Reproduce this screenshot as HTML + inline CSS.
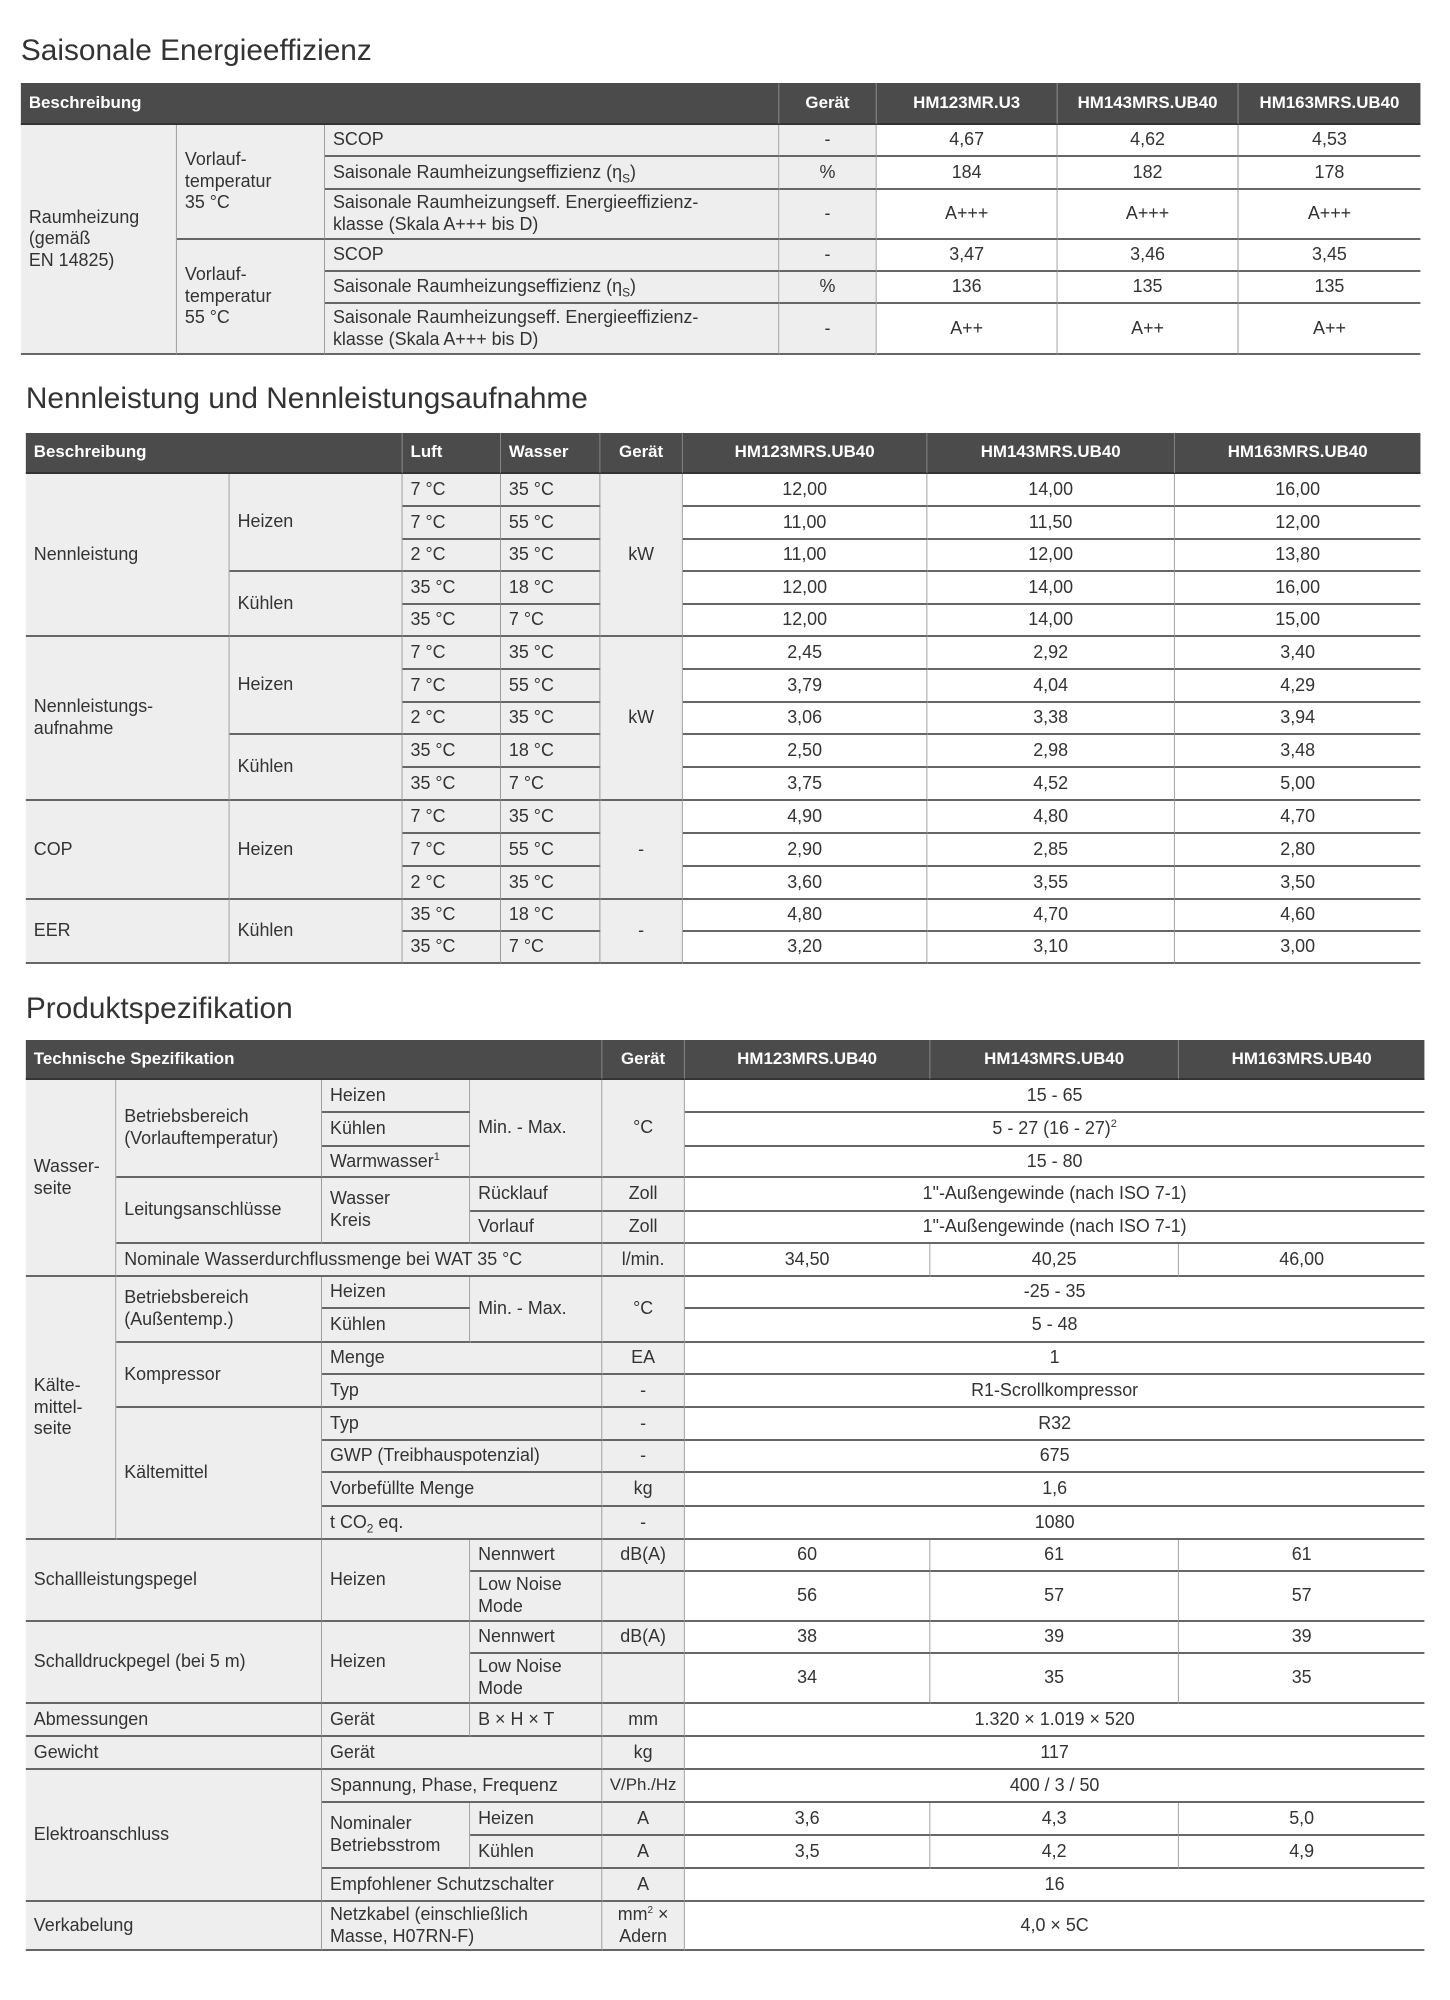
<!DOCTYPE html>
<html><head><meta charset="utf-8"><style>
body{margin:0;width:1450px;height:2000px;background:#fff;position:relative;font-family:"Liberation Sans",sans-serif;color:#333;overflow:hidden}
#w{position:absolute;left:0;top:0;width:1450px;height:2000px;transform:scaleX(0.994);transform-origin:0 0}
.t{position:absolute;font-size:30px;color:#333;white-space:nowrap}
.c{position:absolute;box-sizing:border-box;border-right:1px solid #999;border-bottom:2px solid #666;padding:0 8px;display:flex;align-items:center;font-size:18px;line-height:1.2;background:#fff;white-space:nowrap}
.g{background:#eee}
.m{justify-content:center;text-align:center}
.h{background:#4b4b4b;color:#fff;font-weight:bold;font-size:17px;border-bottom:2px solid #333;border-right:1px solid #888}
.n{border-right:none}
sub,sup{line-height:0}
</style></head><body><div id="w">

<div class="t" style="left:21px;top:34px">Saisonale Energieeffizienz</div>
<div class="c h" style="left:21px;top:83px;width:763px;height:42px">Beschreibung</div>
<div class="c h m" style="left:784px;top:83px;width:98px;height:42px">Gerät</div>
<div class="c h m" style="left:882px;top:83px;width:182px;height:42px">HM123MR.U3</div>
<div class="c h m" style="left:1064px;top:83px;width:182px;height:42px">HM143MRS.UB40</div>
<div class="c h m n" style="left:1246px;top:83px;width:183px;height:42px">HM163MRS.UB40</div>
<div class="c g" style="left:21px;top:125px;width:157px;height:230px">Raumheizung<br>(gemäß<br>EN 14825)</div>
<div class="c g" style="left:178px;top:125px;width:149px;height:115px;align-items:flex-start;padding-top:24px">Vorlauf-<br>temperatur<br>35 °C</div>
<div class="c g" style="left:178px;top:240px;width:149px;height:115px">Vorlauf-<br>temperatur<br>55 °C</div>
<div class="c g" style="left:327px;top:125px;width:457px;height:32px">SCOP</div>
<div class="c g" style="left:327px;top:157px;width:457px;height:33px"><span>Saisonale Raumheizungseffizienz (η<sub style="font-size:12px">S</sub>)</span></div>
<div class="c g" style="left:327px;top:190px;width:457px;height:50px"><span>Saisonale Raumheizungseff. Energieeffizienz-<br>klasse (Skala A+++ bis D)</span></div>
<div class="c g" style="left:327px;top:240px;width:457px;height:32px">SCOP</div>
<div class="c g" style="left:327px;top:272px;width:457px;height:32px"><span>Saisonale Raumheizungseffizienz (η<sub style="font-size:12px">S</sub>)</span></div>
<div class="c g" style="left:327px;top:304px;width:457px;height:51px"><span>Saisonale Raumheizungseff. Energieeffizienz-<br>klasse (Skala A+++ bis D)</span></div>
<div class="c g m" style="left:784px;top:125px;width:98px;height:32px">-</div>
<div class="c g m" style="left:784px;top:157px;width:98px;height:33px">%</div>
<div class="c g m" style="left:784px;top:190px;width:98px;height:50px">-</div>
<div class="c g m" style="left:784px;top:240px;width:98px;height:32px">-</div>
<div class="c g m" style="left:784px;top:272px;width:98px;height:32px">%</div>
<div class="c g m" style="left:784px;top:304px;width:98px;height:51px">-</div>
<div class="c m" style="left:882px;top:125px;width:182px;height:32px">4,67</div>
<div class="c m" style="left:1064px;top:125px;width:182px;height:32px">4,62</div>
<div class="c m n" style="left:1246px;top:125px;width:183px;height:32px">4,53</div>
<div class="c m" style="left:882px;top:157px;width:182px;height:33px">184</div>
<div class="c m" style="left:1064px;top:157px;width:182px;height:33px">182</div>
<div class="c m n" style="left:1246px;top:157px;width:183px;height:33px">178</div>
<div class="c m" style="left:882px;top:190px;width:182px;height:50px">A+++</div>
<div class="c m" style="left:1064px;top:190px;width:182px;height:50px">A+++</div>
<div class="c m n" style="left:1246px;top:190px;width:183px;height:50px">A+++</div>
<div class="c m" style="left:882px;top:240px;width:182px;height:32px">3,47</div>
<div class="c m" style="left:1064px;top:240px;width:182px;height:32px">3,46</div>
<div class="c m n" style="left:1246px;top:240px;width:183px;height:32px">3,45</div>
<div class="c m" style="left:882px;top:272px;width:182px;height:32px">136</div>
<div class="c m" style="left:1064px;top:272px;width:182px;height:32px">135</div>
<div class="c m n" style="left:1246px;top:272px;width:183px;height:32px">135</div>
<div class="c m" style="left:882px;top:304px;width:182px;height:51px">A++</div>
<div class="c m" style="left:1064px;top:304px;width:182px;height:51px">A++</div>
<div class="c m n" style="left:1246px;top:304px;width:183px;height:51px">A++</div>

<div class="t" style="left:26px;top:382px">Nennleistung und Nennleistungsaufnahme</div>
<div class="c h" style="left:26px;top:433px;width:379px;height:41px">Beschreibung</div>
<div class="c h" style="left:405px;top:433px;width:99px;height:41px">Luft</div>
<div class="c h" style="left:504px;top:433px;width:100px;height:41px">Wasser</div>
<div class="c h m" style="left:604px;top:433px;width:83px;height:41px">Gerät</div>
<div class="c h m" style="left:687px;top:433px;width:246px;height:41px">HM123MRS.UB40</div>
<div class="c h m" style="left:933px;top:433px;width:249px;height:41px">HM143MRS.UB40</div>
<div class="c h m n" style="left:1182px;top:433px;width:247px;height:41px">HM163MRS.UB40</div>
<div class="c g" style="left:26px;top:474px;width:205px;height:163px">Nennleistung</div>
<div class="c g" style="left:26px;top:637px;width:205px;height:164px">Nennleistungs-<br>aufnahme</div>
<div class="c g" style="left:26px;top:801px;width:205px;height:99px">COP</div>
<div class="c g" style="left:26px;top:900px;width:205px;height:64px">EER</div>
<div class="c g" style="left:231px;top:474px;width:174px;height:98px">Heizen</div>
<div class="c g" style="left:231px;top:572px;width:174px;height:65px">Kühlen</div>
<div class="c g" style="left:231px;top:637px;width:174px;height:98px">Heizen</div>
<div class="c g" style="left:231px;top:735px;width:174px;height:66px">Kühlen</div>
<div class="c g" style="left:231px;top:801px;width:174px;height:99px">Heizen</div>
<div class="c g" style="left:231px;top:900px;width:174px;height:64px">Kühlen</div>
<div class="c g m" style="left:604px;top:474px;width:83px;height:163px">kW</div>
<div class="c g m" style="left:604px;top:637px;width:83px;height:164px">kW</div>
<div class="c g m" style="left:604px;top:801px;width:83px;height:99px">-</div>
<div class="c g m" style="left:604px;top:900px;width:83px;height:64px">-</div>

<div class="c g" style="left:405px;top:474px;width:99px;height:33px">7 °C</div><div class="c g" style="left:504px;top:474px;width:100px;height:33px">35 °C</div>
<div class="c g" style="left:405px;top:507px;width:99px;height:33px">7 °C</div><div class="c g" style="left:504px;top:507px;width:100px;height:33px">55 °C</div>
<div class="c g" style="left:405px;top:540px;width:99px;height:32px">2 °C</div><div class="c g" style="left:504px;top:540px;width:100px;height:32px">35 °C</div>
<div class="c g" style="left:405px;top:572px;width:99px;height:33px">35 °C</div><div class="c g" style="left:504px;top:572px;width:100px;height:33px">18 °C</div>
<div class="c g" style="left:405px;top:605px;width:99px;height:32px">35 °C</div><div class="c g" style="left:504px;top:605px;width:100px;height:32px">7 °C</div>
<div class="c g" style="left:405px;top:637px;width:99px;height:33px">7 °C</div><div class="c g" style="left:504px;top:637px;width:100px;height:33px">35 °C</div>
<div class="c g" style="left:405px;top:670px;width:99px;height:33px">7 °C</div><div class="c g" style="left:504px;top:670px;width:100px;height:33px">55 °C</div>
<div class="c g" style="left:405px;top:703px;width:99px;height:32px">2 °C</div><div class="c g" style="left:504px;top:703px;width:100px;height:32px">35 °C</div>
<div class="c g" style="left:405px;top:735px;width:99px;height:33px">35 °C</div><div class="c g" style="left:504px;top:735px;width:100px;height:33px">18 °C</div>
<div class="c g" style="left:405px;top:768px;width:99px;height:33px">35 °C</div><div class="c g" style="left:504px;top:768px;width:100px;height:33px">7 °C</div>
<div class="c g" style="left:405px;top:801px;width:99px;height:33px">7 °C</div><div class="c g" style="left:504px;top:801px;width:100px;height:33px">35 °C</div>
<div class="c g" style="left:405px;top:834px;width:99px;height:33px">7 °C</div><div class="c g" style="left:504px;top:834px;width:100px;height:33px">55 °C</div>
<div class="c g" style="left:405px;top:867px;width:99px;height:33px">2 °C</div><div class="c g" style="left:504px;top:867px;width:100px;height:33px">35 °C</div>
<div class="c g" style="left:405px;top:900px;width:99px;height:32px">35 °C</div><div class="c g" style="left:504px;top:900px;width:100px;height:32px">18 °C</div>
<div class="c g" style="left:405px;top:932px;width:99px;height:32px">35 °C</div><div class="c g" style="left:504px;top:932px;width:100px;height:32px">7 °C</div>

<div class="c m" style="left:687px;top:474px;width:246px;height:33px">12,00</div><div class="c m" style="left:933px;top:474px;width:249px;height:33px">14,00</div><div class="c m n" style="left:1182px;top:474px;width:247px;height:33px">16,00</div>
<div class="c m" style="left:687px;top:507px;width:246px;height:33px">11,00</div><div class="c m" style="left:933px;top:507px;width:249px;height:33px">11,50</div><div class="c m n" style="left:1182px;top:507px;width:247px;height:33px">12,00</div>
<div class="c m" style="left:687px;top:540px;width:246px;height:32px">11,00</div><div class="c m" style="left:933px;top:540px;width:249px;height:32px">12,00</div><div class="c m n" style="left:1182px;top:540px;width:247px;height:32px">13,80</div>
<div class="c m" style="left:687px;top:572px;width:246px;height:33px">12,00</div><div class="c m" style="left:933px;top:572px;width:249px;height:33px">14,00</div><div class="c m n" style="left:1182px;top:572px;width:247px;height:33px">16,00</div>
<div class="c m" style="left:687px;top:605px;width:246px;height:32px">12,00</div><div class="c m" style="left:933px;top:605px;width:249px;height:32px">14,00</div><div class="c m n" style="left:1182px;top:605px;width:247px;height:32px">15,00</div>
<div class="c m" style="left:687px;top:637px;width:246px;height:33px">2,45</div><div class="c m" style="left:933px;top:637px;width:249px;height:33px">2,92</div><div class="c m n" style="left:1182px;top:637px;width:247px;height:33px">3,40</div>
<div class="c m" style="left:687px;top:670px;width:246px;height:33px">3,79</div><div class="c m" style="left:933px;top:670px;width:249px;height:33px">4,04</div><div class="c m n" style="left:1182px;top:670px;width:247px;height:33px">4,29</div>
<div class="c m" style="left:687px;top:703px;width:246px;height:32px">3,06</div><div class="c m" style="left:933px;top:703px;width:249px;height:32px">3,38</div><div class="c m n" style="left:1182px;top:703px;width:247px;height:32px">3,94</div>
<div class="c m" style="left:687px;top:735px;width:246px;height:33px">2,50</div><div class="c m" style="left:933px;top:735px;width:249px;height:33px">2,98</div><div class="c m n" style="left:1182px;top:735px;width:247px;height:33px">3,48</div>
<div class="c m" style="left:687px;top:768px;width:246px;height:33px">3,75</div><div class="c m" style="left:933px;top:768px;width:249px;height:33px">4,52</div><div class="c m n" style="left:1182px;top:768px;width:247px;height:33px">5,00</div>
<div class="c m" style="left:687px;top:801px;width:246px;height:33px">4,90</div><div class="c m" style="left:933px;top:801px;width:249px;height:33px">4,80</div><div class="c m n" style="left:1182px;top:801px;width:247px;height:33px">4,70</div>
<div class="c m" style="left:687px;top:834px;width:246px;height:33px">2,90</div><div class="c m" style="left:933px;top:834px;width:249px;height:33px">2,85</div><div class="c m n" style="left:1182px;top:834px;width:247px;height:33px">2,80</div>
<div class="c m" style="left:687px;top:867px;width:246px;height:33px">3,60</div><div class="c m" style="left:933px;top:867px;width:249px;height:33px">3,55</div><div class="c m n" style="left:1182px;top:867px;width:247px;height:33px">3,50</div>
<div class="c m" style="left:687px;top:900px;width:246px;height:32px">4,80</div><div class="c m" style="left:933px;top:900px;width:249px;height:32px">4,70</div><div class="c m n" style="left:1182px;top:900px;width:247px;height:32px">4,60</div>
<div class="c m" style="left:687px;top:932px;width:246px;height:32px">3,20</div><div class="c m" style="left:933px;top:932px;width:249px;height:32px">3,10</div><div class="c m n" style="left:1182px;top:932px;width:247px;height:32px">3,00</div>

<div class="t" style="left:26px;top:992px">Produktspezifikation</div>
<div class="c h" style="left:26px;top:1040px;width:580px;height:40px">Technische Spezifikation</div>
<div class="c h m" style="left:606px;top:1040px;width:83px;height:40px">Gerät</div>
<div class="c h m" style="left:689px;top:1040px;width:247px;height:40px">HM123MRS.UB40</div>
<div class="c h m" style="left:936px;top:1040px;width:250px;height:40px">HM143MRS.UB40</div>
<div class="c h m n" style="left:1186px;top:1040px;width:247px;height:40px">HM163MRS.UB40</div>

<div class="c g" style="left:26px;top:1080px;width:91px;height:197px">Wasser-<br>seite</div>
<div class="c g" style="left:26px;top:1277px;width:91px;height:263px">Kälte-<br>mittel-<br>seite</div>
<div class="c g" style="left:117px;top:1080px;width:207px;height:98px;white-space:normal">Betriebsbereich (Vorlauftemperatur)</div>
<div class="c g" style="left:117px;top:1178px;width:207px;height:66px">Leitungsanschlüsse</div>
<div class="c g" style="left:117px;top:1244px;width:489px;height:33px">Nominale Wasserdurchflussmenge bei WAT 35 °C</div>
<div class="c g" style="left:117px;top:1277px;width:207px;height:66px">Betriebsbereich<br>(Außentemp.)</div>
<div class="c g" style="left:117px;top:1343px;width:207px;height:65px">Kompressor</div>
<div class="c g" style="left:117px;top:1408px;width:207px;height:132px">Kältemittel</div>
<div class="c g" style="left:324px;top:1080px;width:149px;height:33px">Heizen</div>
<div class="c g" style="left:324px;top:1113px;width:149px;height:34px">Kühlen</div>
<div class="c g" style="left:324px;top:1147px;width:149px;height:31px"><span>Warmwasser<sup style="font-size:11px">1</sup></span></div>
<div class="c g" style="left:324px;top:1178px;width:149px;height:66px">Wasser<br>Kreis</div>
<div class="c g" style="left:324px;top:1277px;width:149px;height:32px">Heizen</div>
<div class="c g" style="left:324px;top:1309px;width:149px;height:34px">Kühlen</div>
<div class="c g" style="left:324px;top:1343px;width:282px;height:32px">Menge</div>
<div class="c g" style="left:324px;top:1375px;width:282px;height:33px">Typ</div>
<div class="c g" style="left:324px;top:1408px;width:282px;height:33px">Typ</div>
<div class="c g" style="left:324px;top:1441px;width:282px;height:32px">GWP (Treibhauspotenzial)</div>
<div class="c g" style="left:324px;top:1473px;width:282px;height:34px">Vorbefüllte Menge</div>
<div class="c g" style="left:324px;top:1507px;width:282px;height:33px"><span>t CO<sub style="font-size:12px">2</sub> eq.</span></div>
<div class="c g" style="left:473px;top:1080px;width:133px;height:98px">Min. - Max.</div>
<div class="c g" style="left:473px;top:1178px;width:133px;height:34px">Rücklauf</div>
<div class="c g" style="left:473px;top:1212px;width:133px;height:32px">Vorlauf</div>
<div class="c g" style="left:473px;top:1277px;width:133px;height:66px">Min. - Max.</div>
<div class="c g m" style="left:606px;top:1080px;width:83px;height:98px">°C</div>
<div class="c g m" style="left:606px;top:1178px;width:83px;height:34px">Zoll</div>
<div class="c g m" style="left:606px;top:1212px;width:83px;height:32px">Zoll</div>
<div class="c g m" style="left:606px;top:1244px;width:83px;height:33px">l/min.</div>
<div class="c g m" style="left:606px;top:1277px;width:83px;height:66px">°C</div>
<div class="c g m" style="left:606px;top:1343px;width:83px;height:32px">EA</div>
<div class="c g m" style="left:606px;top:1375px;width:83px;height:33px">-</div>
<div class="c g m" style="left:606px;top:1408px;width:83px;height:33px">-</div>
<div class="c g m" style="left:606px;top:1441px;width:83px;height:32px">-</div>
<div class="c g m" style="left:606px;top:1473px;width:83px;height:34px">kg</div>
<div class="c g m" style="left:606px;top:1507px;width:83px;height:33px">-</div>
<div class="c m n" style="left:689px;top:1080px;width:744px;height:33px">15 - 65</div>
<div class="c m n" style="left:689px;top:1113px;width:744px;height:34px"><span>5 - 27 (16 - 27)<sup style="font-size:11px">2</sup></span></div>
<div class="c m n" style="left:689px;top:1147px;width:744px;height:31px">15 - 80</div>
<div class="c m n" style="left:689px;top:1178px;width:744px;height:34px">1"-Außengewinde (nach ISO 7-1)</div>
<div class="c m n" style="left:689px;top:1212px;width:744px;height:32px">1"-Außengewinde (nach ISO 7-1)</div>
<div class="c m" style="left:689px;top:1244px;width:247px;height:33px">34,50</div><div class="c m" style="left:936px;top:1244px;width:250px;height:33px">40,25</div><div class="c m n" style="left:1186px;top:1244px;width:247px;height:33px">46,00</div>
<div class="c m n" style="left:689px;top:1277px;width:744px;height:32px">-25 - 35</div>
<div class="c m n" style="left:689px;top:1309px;width:744px;height:34px">5 - 48</div>
<div class="c m n" style="left:689px;top:1343px;width:744px;height:32px">1</div>
<div class="c m n" style="left:689px;top:1375px;width:744px;height:33px">R1-Scrollkompressor</div>
<div class="c m n" style="left:689px;top:1408px;width:744px;height:33px">R32</div>
<div class="c m n" style="left:689px;top:1441px;width:744px;height:32px">675</div>
<div class="c m n" style="left:689px;top:1473px;width:744px;height:34px">1,6</div>
<div class="c m n" style="left:689px;top:1507px;width:744px;height:33px">1080</div>

<div class="c g" style="left:26px;top:1540px;width:298px;height:82px">Schallleistungspegel</div>
<div class="c g" style="left:324px;top:1540px;width:149px;height:82px">Heizen</div>
<div class="c g" style="left:473px;top:1540px;width:133px;height:32px">Nennwert</div>
<div class="c g" style="left:473px;top:1572px;width:133px;height:50px">Low Noise<br>Mode</div>
<div class="c g m" style="left:606px;top:1540px;width:83px;height:32px">dB(A)</div>
<div class="c g m" style="left:606px;top:1572px;width:83px;height:50px"></div>
<div class="c m" style="left:689px;top:1540px;width:247px;height:32px">60</div><div class="c m" style="left:936px;top:1540px;width:250px;height:32px">61</div><div class="c m n" style="left:1186px;top:1540px;width:247px;height:32px">61</div>
<div class="c m" style="left:689px;top:1572px;width:247px;height:50px">56</div><div class="c m" style="left:936px;top:1572px;width:250px;height:50px">57</div><div class="c m n" style="left:1186px;top:1572px;width:247px;height:50px">57</div>
<div class="c g" style="left:26px;top:1622px;width:298px;height:82px">Schalldruckpegel (bei 5 m)</div>
<div class="c g" style="left:324px;top:1622px;width:149px;height:82px">Heizen</div>
<div class="c g" style="left:473px;top:1622px;width:133px;height:32px">Nennwert</div>
<div class="c g" style="left:473px;top:1654px;width:133px;height:50px">Low Noise<br>Mode</div>
<div class="c g m" style="left:606px;top:1622px;width:83px;height:32px">dB(A)</div>
<div class="c g m" style="left:606px;top:1654px;width:83px;height:50px"></div>
<div class="c m" style="left:689px;top:1622px;width:247px;height:32px">38</div><div class="c m" style="left:936px;top:1622px;width:250px;height:32px">39</div><div class="c m n" style="left:1186px;top:1622px;width:247px;height:32px">39</div>
<div class="c m" style="left:689px;top:1654px;width:247px;height:50px">34</div><div class="c m" style="left:936px;top:1654px;width:250px;height:50px">35</div><div class="c m n" style="left:1186px;top:1654px;width:247px;height:50px">35</div>
<div class="c g" style="left:26px;top:1704px;width:298px;height:33px">Abmessungen</div>
<div class="c g" style="left:324px;top:1704px;width:149px;height:33px">Gerät</div>
<div class="c g" style="left:473px;top:1704px;width:133px;height:33px">B × H × T</div>
<div class="c g m" style="left:606px;top:1704px;width:83px;height:33px">mm</div>
<div class="c m n" style="left:689px;top:1704px;width:744px;height:33px">1.320 × 1.019 × 520</div>
<div class="c g" style="left:26px;top:1737px;width:298px;height:33px">Gewicht</div>
<div class="c g" style="left:324px;top:1737px;width:282px;height:33px">Gerät</div>
<div class="c g m" style="left:606px;top:1737px;width:83px;height:33px">kg</div>
<div class="c m n" style="left:689px;top:1737px;width:744px;height:33px">117</div>
<div class="c g" style="left:26px;top:1770px;width:298px;height:132px">Elektroanschluss</div>
<div class="c g" style="left:324px;top:1770px;width:282px;height:33px">Spannung, Phase, Frequenz</div>
<div class="c g m" style="left:606px;top:1770px;width:83px;height:33px;padding:0;font-size:17px">V/Ph./Hz</div>
<div class="c m n" style="left:689px;top:1770px;width:744px;height:33px">400 / 3 / 50</div>
<div class="c g" style="left:324px;top:1803px;width:149px;height:66px">Nominaler<br>Betriebsstrom</div>
<div class="c g" style="left:473px;top:1803px;width:133px;height:33px">Heizen</div>
<div class="c g" style="left:473px;top:1836px;width:133px;height:33px">Kühlen</div>
<div class="c g m" style="left:606px;top:1803px;width:83px;height:33px">A</div>
<div class="c g m" style="left:606px;top:1836px;width:83px;height:33px">A</div>
<div class="c m" style="left:689px;top:1803px;width:247px;height:33px">3,6</div><div class="c m" style="left:936px;top:1803px;width:250px;height:33px">4,3</div><div class="c m n" style="left:1186px;top:1803px;width:247px;height:33px">5,0</div>
<div class="c m" style="left:689px;top:1836px;width:247px;height:33px">3,5</div><div class="c m" style="left:936px;top:1836px;width:250px;height:33px">4,2</div><div class="c m n" style="left:1186px;top:1836px;width:247px;height:33px">4,9</div>
<div class="c g" style="left:324px;top:1869px;width:282px;height:33px">Empfohlener Schutzschalter</div>
<div class="c g m" style="left:606px;top:1869px;width:83px;height:33px">A</div>
<div class="c m n" style="left:689px;top:1869px;width:744px;height:33px">16</div>
<div class="c g" style="left:26px;top:1902px;width:298px;height:49px">Verkabelung</div>
<div class="c g" style="left:324px;top:1902px;width:282px;height:49px">Netzkabel (einschließlich<br>Masse, H07RN-F)</div>
<div class="c g m" style="left:606px;top:1902px;width:83px;height:49px"><span>mm<sup style="font-size:10px">2</sup> ×<br>Adern</span></div>
<div class="c m n" style="left:689px;top:1902px;width:744px;height:49px">4,0 × 5C</div>
</div></body></html>
